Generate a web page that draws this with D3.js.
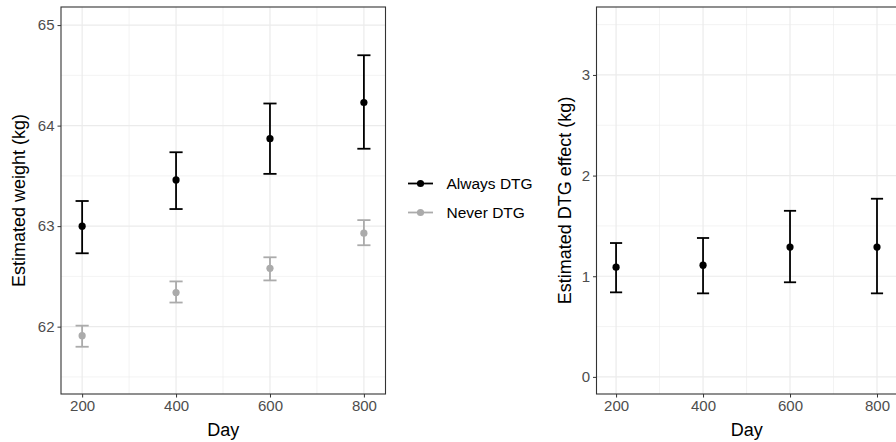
<!DOCTYPE html>
<html>
<head>
<meta charset="utf-8">
<script src="https://cdn.jsdelivr.net/npm/d3@7"></script>
<style>
  body { margin: 0; background: #fff; }
  text { font-family: "Liberation Sans", Arial, sans-serif; }
</style>
</head>
<body>
<svg width="896" height="442"></svg>
<script>
const days = [200, 400, 600, 800]

// left panel: estimated weight
const alwaysMean = [63.0, 63.46, 63.87, 64.23]
const alwaysLow = [62.73, 63.17, 63.52, 63.77]
const alwaysHigh = [63.25, 63.735, 64.22, 64.70]

const neverMean = [61.91, 62.34, 62.58, 62.93]
const neverLow = [61.80, 62.24, 62.46, 62.81]
const neverHigh = [62.01, 62.45, 62.69, 63.06]

// right panel: DTG effect
const effectMean = [1.09, 1.11, 1.29, 1.29]
const effectLow = [0.84, 0.83, 0.94, 0.83]
const effectHigh = [1.33, 1.38, 1.65, 1.77]

const seriesNames = ["Always DTG", "Never DTG"]
const seriesColors = ["#000000", "#ababab"]

const svg = d3.select("svg")

function rows(mean, low, high) {
  return days.map((d, i) => ({day: d, mean: mean[i], low: low[i], high: high[i]}))
}

function panel(opts) {
  const g = svg.append("g")
  const x = d3.scaleLinear().domain([155, 846]).range([opts.left, opts.right])
  const y = d3.scaleLinear().domain(opts.yDomain).range([394, 7])

  g.append("rect")
    .attr("x", opts.left).attr("y", 7)
    .attr("width", opts.right - opts.left).attr("height", 387)
    .attr("fill", "#fff")

  // minor grid
  g.selectAll(".xminor").data([300, 500, 700]).join("line")
    .attr("x1", d => x(d)).attr("x2", d => x(d))
    .attr("y1", 7).attr("y2", 394)
    .attr("stroke", "#ebebeb").attr("stroke-width", 0.6)
  g.selectAll(".yminor").data(opts.yMinor).join("line")
    .attr("x1", opts.left).attr("x2", opts.right)
    .attr("y1", d => y(d)).attr("y2", d => y(d))
    .attr("stroke", "#ebebeb").attr("stroke-width", 0.6)
  // major grid
  g.selectAll(".xmajor").data(days).join("line")
    .attr("x1", d => x(d)).attr("x2", d => x(d))
    .attr("y1", 7).attr("y2", 394)
    .attr("stroke", "#ebebeb").attr("stroke-width", 1.2)
  g.selectAll(".ymajor").data(opts.yTicks).join("line")
    .attr("x1", opts.left).attr("x2", opts.right)
    .attr("y1", d => y(d)).attr("y2", d => y(d))
    .attr("stroke", "#ebebeb").attr("stroke-width", 1.2)

  const capHalf = x(214) - x(200)
  opts.series.forEach(s => {
    const sg = g.append("g")
    sg.selectAll(".bar").data(s.data).join("line")
      .attr("x1", d => x(d.day)).attr("x2", d => x(d.day))
      .attr("y1", d => y(d.low)).attr("y2", d => y(d.high))
      .attr("stroke", s.color).attr("stroke-width", 1.8)
    sg.selectAll(".capHi").data(s.data).join("line")
      .attr("x1", d => x(d.day) - capHalf).attr("x2", d => x(d.day) + capHalf)
      .attr("y1", d => y(d.high)).attr("y2", d => y(d.high))
      .attr("stroke", s.color).attr("stroke-width", 1.8)
    sg.selectAll(".capLo").data(s.data).join("line")
      .attr("x1", d => x(d.day) - capHalf).attr("x2", d => x(d.day) + capHalf)
      .attr("y1", d => y(d.low)).attr("y2", d => y(d.low))
      .attr("stroke", s.color).attr("stroke-width", 1.8)
    sg.selectAll("circle").data(s.data).join("circle")
      .attr("cx", d => x(d.day)).attr("cy", d => y(d.mean))
      .attr("r", 3.6).attr("fill", s.color)
  })

  const xAxis = g.append("g").attr("transform", "translate(0,394)")
    .call(d3.axisBottom(x).tickValues(days).tickSize(3.5).tickPadding(3).tickFormat(d3.format("d")))
  const yAxis = g.append("g").attr("transform", `translate(${opts.left},0)`)
    .call(d3.axisLeft(y).tickValues(opts.yTicks).tickSize(3.5).tickPadding(3).tickFormat(d3.format("d")))
  ;[xAxis, yAxis].forEach(a => {
    a.attr("font-size", null).attr("font-family", null)
    a.select(".domain").remove()
    a.selectAll(".tick line").attr("stroke", "#333").attr("stroke-width", 1)
    a.selectAll(".tick text").attr("fill", "#4d4d4d").style("font-size", "15px")
  })

  g.append("rect")
    .attr("x", opts.left).attr("y", 7)
    .attr("width", opts.right - opts.left).attr("height", 387)
    .attr("fill", "none").attr("stroke", "#333").attr("stroke-width", 1.1)

  g.append("text")
    .attr("x", (opts.left + opts.right) / 2).attr("y", 436)
    .attr("text-anchor", "middle").style("font-size", "18px")
    .text("Day")
  g.append("text")
    .attr("transform", `translate(${opts.titleX},200.5) rotate(-90)`)
    .attr("text-anchor", "middle").style("font-size", "18px")
    .text(opts.yTitle)
}

panel({
  left: 61, right: 385.5,
  yDomain: [61.33, 65.18],
  yTicks: [62, 63, 64, 65],
  yMinor: [61.5, 62.5, 63.5, 64.5],
  yTitle: "Estimated weight (kg)",
  titleX: 25,
  series: [
    {color: seriesColors[1], data: rows(neverMean, neverLow, neverHigh)},
    {color: seriesColors[0], data: rows(alwaysMean, alwaysLow, alwaysHigh)}
  ]
})

panel({
  left: 596.5, right: 897,
  yDomain: [-0.17, 3.675],
  yTicks: [0, 1, 2, 3],
  yMinor: [0.5, 1.5, 2.5, 3.5],
  yTitle: "Estimated DTG effect (kg)",
  titleX: 571,
  series: [
    {color: seriesColors[0], data: rows(effectMean, effectLow, effectHigh)}
  ]
})

// legend
const legend = svg.append("g")
seriesNames.forEach((name, i) => {
  const ly = 183.5 + i * 29
  legend.append("line")
    .attr("x1", 408).attr("x2", 433).attr("y1", ly).attr("y2", ly)
    .attr("stroke", seriesColors[i]).attr("stroke-width", 1.8)
  legend.append("circle")
    .attr("cx", 420.5).attr("cy", ly).attr("r", 3.6).attr("fill", seriesColors[i])
  legend.append("text")
    .attr("x", 446.5).attr("y", ly).attr("dy", "0.35em")
    .style("font-size", "15.5px").attr("fill", "#000")
    .text(name)
})
</script>
</body>
</html>
